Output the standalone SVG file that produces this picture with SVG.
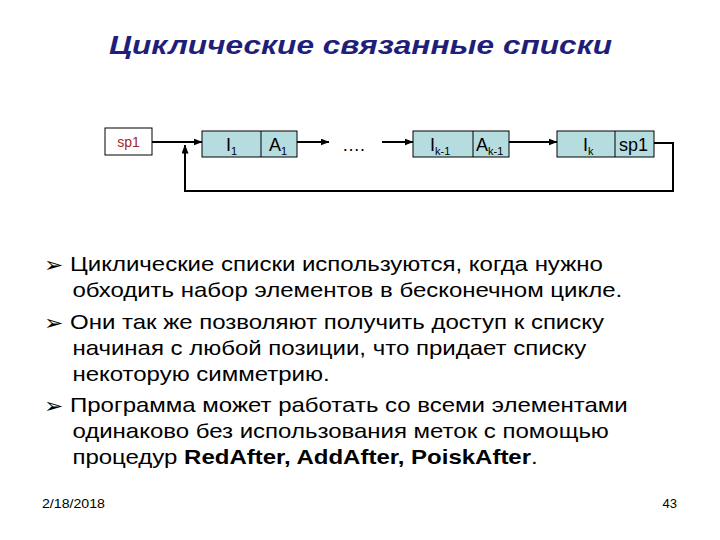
<svg xmlns="http://www.w3.org/2000/svg" width="720" height="540" viewBox="0 0 720 540">
<defs>
<marker id="ah" markerWidth="9" markerHeight="7" refX="8.5" refY="3.5" orient="auto" markerUnits="userSpaceOnUse">
<path d="M0,0 L9,3.5 L0,7 Z" fill="#000"/>
</marker>
</defs>
<style>
.title{font-family:"Liberation Sans",Arial,sans-serif;font-weight:bold;font-style:italic;font-size:26px;fill:#1F1F7A}
.body{font-family:"Liberation Sans",Arial,sans-serif;font-size:20px;fill:#000}
.bul{font-family:"DejaVu Sans",sans-serif;font-size:21px;fill:#000}
.node{fill:#B5DCDF;stroke:#000;stroke-width:1}
.lbl{font-family:"Liberation Sans",Arial,sans-serif;font-size:18px;fill:#000}
.sub{font-size:11px}
.conn{fill:none;stroke:#000;stroke-width:2}
.foot{font-family:"Liberation Sans",Arial,sans-serif;font-size:13px;fill:#000}
</style>
<rect width="720" height="540" fill="#fff"/>
<text class="title" x="109" y="54" textLength="503" lengthAdjust="spacingAndGlyphs">Циклические связанные списки</text>

<g id="head">
<rect x="105" y="128" width="47" height="27" fill="#fff" stroke="#000" stroke-width="1"/>
<text x="128.5" y="147" text-anchor="middle" font-family="Liberation Sans, Arial, sans-serif" font-size="14" fill="#A0282A">sp1</text>
</g>
<g id="node1">
<rect class="node" x="202" y="131" width="95" height="26"/>
<line x1="261" y1="131" x2="261" y2="157" stroke="#000"/>
<text class="lbl" x="226" y="151">I<tspan class="sub" dy="4">1</tspan></text>
<text class="lbl" x="269" y="151">A<tspan class="sub" dy="4">1</tspan></text>
</g>
<g id="dots">
<text class="lbl" x="342" y="151">….</text>
</g>
<g id="nodek1">
<rect class="node" x="413" y="131" width="96" height="26"/>
<line x1="473" y1="131" x2="473" y2="157" stroke="#000"/>
<text class="lbl" x="430" y="151">I<tspan class="sub" dy="4">k-1</tspan></text>
<text class="lbl" x="476" y="151">A<tspan class="sub" dy="4">k-1</tspan></text>
</g>
<g id="nodek">
<rect class="node" x="557" y="131" width="97" height="26"/>
<line x1="615" y1="131" x2="615" y2="157" stroke="#000"/>
<text class="lbl" x="583" y="151">I<tspan class="sub" dy="4">k</tspan></text>
<text class="lbl" x="619" y="151">sp1</text>
</g>

<g id="connectors">
<line class="conn" x1="152" y1="142" x2="202" y2="142" marker-end="url(#ah)"/>
<line class="conn" x1="297" y1="142" x2="329" y2="142" marker-end="url(#ah)"/>
<line class="conn" x1="382" y1="142" x2="413" y2="142" marker-end="url(#ah)"/>
<line class="conn" x1="509" y1="142" x2="557" y2="142" marker-end="url(#ah)"/>
<polyline class="conn" points="654,143 673,143 673,191 185,191 185,145" marker-end="url(#ah)"/>
</g>

<g id="bullets">
<g transform="translate(44,0) scale(1.1,1)">
<text class="bul" x="0" y="272">➢</text>
<text class="bul" x="0" y="330">➢</text>
<text class="bul" x="0" y="413">➢</text>
</g>
<g transform="translate(70,0) scale(1.2,1)">
<text class="body" x="0" y="271">Циклические списки используются, когда нужно</text>
<text class="body" x="2" y="297">обходить набор элементов в бесконечном цикле.</text>
<text class="body" x="0" y="329">Они так же позволяют получить доступ к списку</text>
<text class="body" x="2" y="355">начиная с любой позиции, что придает списку</text>
<text class="body" x="2" y="381">некоторую симметрию.</text>
<text class="body" x="0" y="412">Программа может работать со всеми элементами</text>
<text class="body" x="2" y="438">одинаково без использования меток с помощью</text>
<text class="body" x="2" y="464">процедур <tspan font-weight="bold">RedAfter, AddAfter, PoiskAfter</tspan>.</text>
</g>
</g>

<text class="foot" x="42" y="508" textLength="63" lengthAdjust="spacingAndGlyphs">2/18/2018</text>
<text class="foot" x="677" y="508" text-anchor="end">43</text>
</svg>
